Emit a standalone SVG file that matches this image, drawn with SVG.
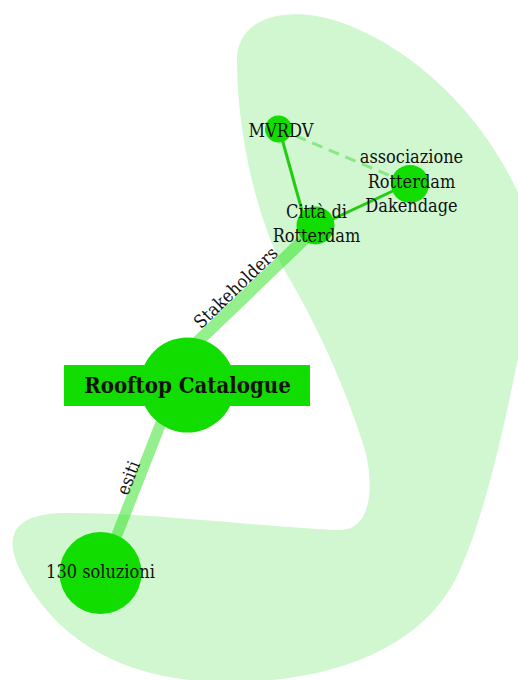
<svg xmlns="http://www.w3.org/2000/svg" width="518" height="680" viewBox="0 0 518 680">
<style>
.lbl{font-family:'DejaVu Serif Condensed','DejaVu Serif',serif;font-stretch:condensed;font-size:18px;fill:#111;text-anchor:middle}
.big{font-family:'DejaVu Serif Condensed','DejaVu Serif',serif;font-stretch:condensed;font-size:22px;font-weight:bold;fill:#111;text-anchor:middle}
.node{fill:#11dd00}
.thick{stroke:#11dd00;stroke-opacity:0.45;fill:none}
.thin{stroke:#22cc11;stroke-width:3;fill:none}
.dash{stroke:#88e888;stroke-width:3;stroke-dasharray:11 7;fill:none}
</style>
<rect width="518" height="680" fill="#ffffff"/>
<path id="blob" fill="#d0f7d0" d="M237,60 C237,15 290,5 340,22 C420,50 505,130 540,250 C515,370 495,490 460,570 C425,650 330,680 240,682 C140,685 60,650 20,570 C5,540 10,515 60,513 C150,512 270,528 340,530 C370,530 375,490 365,450 C350,400 320,330 290,280 C260,230 237,140 237,60 Z"/>
<g id="connectors">
<line class="thick" stroke-width="12" x1="319" y1="225" x2="190" y2="349"/>
<line class="thick" stroke-width="11" x1="102" y1="573" x2="190" y2="349"/>
<line class="thin" x1="279" y1="128" x2="306" y2="225"/>
<line class="thin" x1="318" y1="226" x2="410" y2="183"/>
<line class="dash" x1="279" y1="129" x2="410" y2="184"/>
<text class="lbl" font-size="17" transform="translate(240,292) rotate(-43.9)">Stakeholders</text>
<text class="lbl" font-size="17" transform="translate(134,480) rotate(-68.6)">esiti</text>
</g>
<g id="node-mvrdv">
<circle class="node" cx="278.5" cy="129" r="13.5"/>
<text class="lbl" x="281" y="137">MVRDV</text>
</g>
<g id="node-associazione">
<circle class="node" cx="410" cy="184" r="19"/>
<text class="lbl" x="411.5" y="163">associazione</text>
<text class="lbl" x="411.5" y="187.5">Rotterdam</text>
<text class="lbl" x="411.5" y="211.5">Dakendage</text>
</g>
<g id="node-citta">
<circle class="node" cx="315.5" cy="225.5" r="19"/>
<text class="lbl" x="316.5" y="218">Città di</text>
<text class="lbl" x="316.5" y="242">Rotterdam</text>
</g>
<g id="node-rooftop">
<circle class="node" cx="187.5" cy="385" r="47.5"/>
<rect class="node" x="64" y="365" width="246" height="41"/>
<text class="big" x="187.5" y="393">Rooftop Catalogue</text>
</g>
<g id="node-130">
<circle class="node" cx="100.5" cy="573" r="41"/>
<text class="lbl" x="100.5" y="578">130 soluzioni</text>
</g>
</svg>
